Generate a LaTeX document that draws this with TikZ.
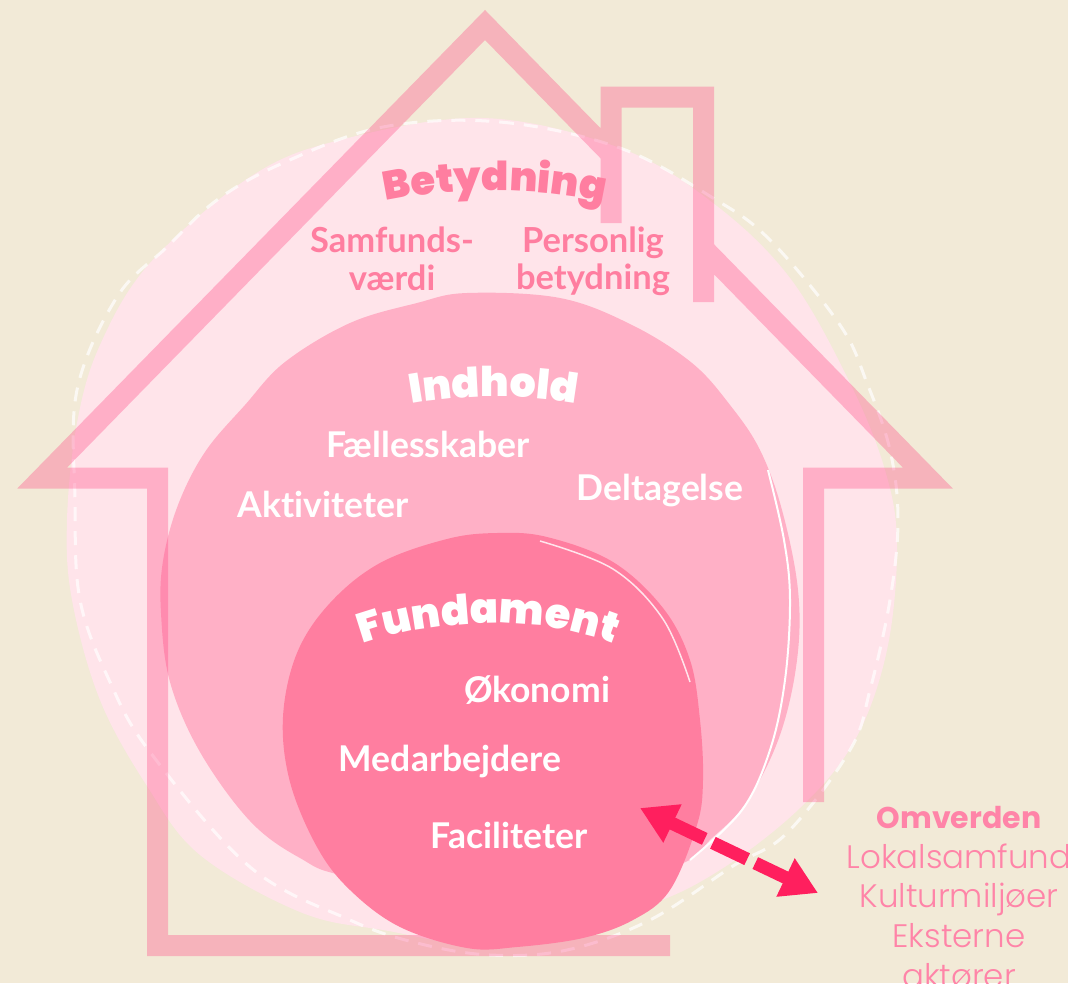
\documentclass[tikz,border=0pt]{standalone}
\usepackage{fontspec}
\usepackage{tikz}
\usetikzlibrary{arrows.meta,positioning,calc,decorations.text}
\definecolor{bgbeige}{HTML}{F2EAD7}
\definecolor{circlepink}{HTML}{FFE4EA}
\definecolor{midpink}{HTML}{FFB0C6}
\definecolor{darkpink}{HTML}{FF7EA0}
\definecolor{housepink}{HTML}{FF4080}
\definecolor{omvpink}{HTML}{FF84A8}
\definecolor{arrowred}{HTML}{FF1F5E}
\newfontfamily\labelfont{Lato}[Ligatures=NoCommon]
\IfFontExistsTF{Poppins Black}{\newfontfamily\chunkyfont{Poppins Black}}{\newfontfamily\chunkyfont{Poppins}[FakeBold=3]}
\IfFontExistsTF{Poppins Light}{\newfontfamily\lightfont{Poppins Light}}{\newfontfamily\lightfont{Poppins}}
\newfontfamily\omvfont{Poppins}

\begin{document}
\begin{tikzpicture}[x=1pt,y=1pt,
  every node/.style={inner sep=0pt,outer sep=0pt},
  whitelbl/.style={text=white,font=\labelfont\bfseries\fontsize{35.5}{40}\selectfont,anchor=base},
  pinklbl/.style={text=darkpink,font=\labelfont\bfseries\fontsize{34.5}{38}\selectfont,anchor=base},
  omvlbl/.style={text=omvpink,font=\lightfont\fontsize{32.5}{40}\selectfont,anchor=base}]
\useasboundingbox (0,0) rectangle (1068,-983);
\clip (0,0) rectangle (1068,-983);
\fill[bgbeige] (0,0) rectangle (1068,-983);
\fill[circlepink] plot[smooth cycle,tension=.6] coordinates {(483,-118) (620,-148) (713,-203) (790,-278) (850,-383) (885,-470) (897,-545) (887,-650) (855,-740) (800,-808) (720,-870) (640,-908) (500,-945) (383,-930) (300,-912) (200,-855) (147,-786) (100,-700) (72,-600) (67,-520) (77,-423) (100,-345) (150,-263) (250,-177) (340,-140)};
\draw[white,opacity=.7,line width=3pt,dash pattern=on 14pt off 10pt] plot[smooth cycle,tension=.6] coordinates {(383,-127) (500,-122) (620,-148) (713,-198) (770,-240) (840,-325) (867,-383) (890,-450) (898,-520) (890,-600) (870,-690) (850,-750) (787,-833) (733,-866) (650,-920) (567,-950) (490,-955) (417,-943) (350,-920) (250,-867) (150,-752) (110,-682) (80,-600) (75,-500) (77,-390) (117,-297) (167,-247) (217,-200) (283,-163)};
\fill[midpink] plot[smooth cycle,tension=.6] coordinates {(467,-293) (560,-298) (632,-325) (692,-363) (730,-405) (760,-450) (782,-510) (798,-590) (797,-660) (780,-735) (748,-800) (712,-838) (673,-867) (520,-905) (350,-877) (300,-858) (250,-821) (200,-752) (170,-682) (161,-613) (163,-561) (178,-505) (205,-452) (245,-405) (285,-362) (350,-323) (417,-303)};
\draw[white,line width=2pt] plot[smooth,tension=.6] coordinates {(768,-470) (784,-540) (790,-600) (785,-680) (770,-750) (742,-810) (690,-860)};
\draw[housepink,draw opacity=.32,line width=21pt,line join=miter]
  (670,-945.5) -- (157.5,-945.5) -- (157.5,-478) -- (42.2,-478) -- (485,-25) -- (611,-154)
  (611,-223) -- (611,-97) -- (703.5,-97) -- (703.5,-302)
  (703.5,-248.5) -- (927.8,-478) -- (813.5,-478) -- (813.5,-802);
\fill[darkpink] plot[smooth cycle,tension=.6] coordinates {(497,-533) (547,-537) (613,-562) (663,-608) (690,-660) (700,-720) (703,-780) (697,-825) (670,-890) (633,-920) (583,-938) (517,-947) (467,-948) (400,-927) (350,-890) (317,-847) (290,-782) (283,-717) (297,-653) (330,-603) (380,-563) (447,-539)};
\draw[white,opacity=.8,line width=1.5pt] plot[smooth,tension=.6] coordinates {(540,-541) (613,-569) (663,-619) (690,-682)};
\path[decorate,decoration={text along path,text align=center,
  text={|\color{darkpink}\chunkyfont\fontsize{40}{40}\selectfont|Betydning}}]
  (378,-203) .. controls (450,-186) and (540,-186) .. (612,-204);
\node[pinklbl] (samf) at (392,-252) {Samfunds-};
\node[pinklbl] (vaerdi) at (392,-290) {værdi};
\node[pinklbl] (pers) at (593,-252) {Personlig};
\node[pinklbl] (betyd) at (593,-289) {betydning};
\path[decorate,decoration={text along path,text align=center,
  text={|\color{white}\chunkyfont\fontsize{41}{41}\selectfont|Indhold}}]
  (405,-405) .. controls (460,-394) and (530,-394) .. (582,-405);
\node[whitelbl] (faell) at (428,-457) {Fællesskaber};
\node[whitelbl] (akt) at (323,-517) {Aktiviteter};
\node[whitelbl] (delt) at (660,-500) {Deltagelse};
\path[decorate,decoration={text along path,text align=center,
  text={|\color{white}\chunkyfont\fontsize{41.5}{41.5}\selectfont|Fundament}}]
  (358,-646) .. controls (430,-618) and (545,-614) .. (618,-646);
\node[whitelbl] (oko) at (537,-702) {Økonomi};
\node[whitelbl] (medarb) at (450,-771) {Medarbejdere};
\node[whitelbl] (facil) at (509,-848) {Faciliteter};
\node[text=omvpink,font=\omvfont\bfseries\fontsize{30}{36}\selectfont,anchor=base] (omv) at (959,-828) {Omverden};
\node[omvlbl] (lokal) at (959,-868) {Lokalsamfund};
\node[omvlbl] (kultur) at (959,-907) {Kulturmiljøer};
\node[omvlbl] (ekst) at (959,-947) {Eksterne};
\node[omvlbl] (aktor) at (959,-987) {aktører};
\coordinate (fundtip) at (640,-808);
\coordinate (omvtip) at (818,-893);
\draw[arrowred,line width=13pt,dash pattern=on 38pt off 9pt,
  {Triangle[length=36pt,width=40pt]}-{Triangle[length=36pt,width=40pt]}] (fundtip) -- (omvtip);
\end{tikzpicture}
\end{document}
